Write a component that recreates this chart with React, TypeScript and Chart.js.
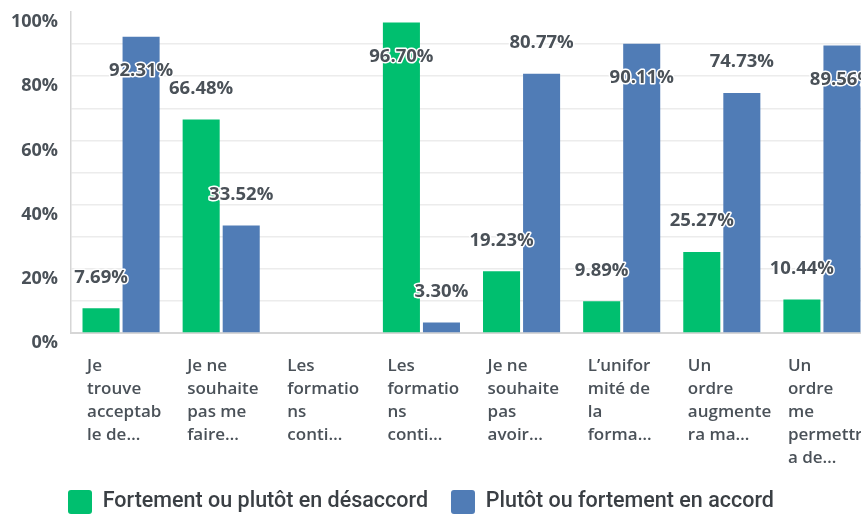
import React, { useEffect, useRef } from "react";
import { Chart, registerables } from "chart.js";

Chart.register(...registerables);

const categories: string[][] = [
  ["Je", "trouve", "acceptab", "le de…"],
  ["Je ne", "souhaite", "pas me", "faire…"],
  ["Les", "formatio", "ns", "conti…"],
  ["Les", "formatio", "ns", "conti…"],
  ["Je ne", "souhaite", "pas", "avoir…"],
  ["L’unifor", "mité de", "la", "forma…"],
  ["Un", "ordre", "augmente", "ra ma…"],
  ["Un", "ordre", "me", "permettr", "a de…"],
];

const seriesNames = ["Fortement ou plutôt en désaccord", "Plutôt ou fortement en accord"];
const disagree = [7.69, 66.48, 0, 96.7, 19.23, 9.89, 25.27, 10.44];
const agree = [92.31, 33.52, 0, 3.3, 80.77, 90.11, 74.73, 89.56];
const yTicks = [0, 20, 40, 60, 80, 100];

const GREEN = "#00BF6F";
const BLUE = "#507CB6";
const TEXT = "#4a5158";

const W = 872;
const H = 515;

const valueLabels = {
  id: "valueLabels",
  afterDatasetsDraw(chart: any) {
    const ctx = chart.ctx;
    ctx.save();
    ctx.font = "700 18.5px 'Open Sans'";
    ctx.textAlign = "center";
    ctx.textBaseline = "middle";
    ctx.lineJoin = "round";
    chart.data.datasets.forEach((ds: any, di: number) => {
      const meta = chart.getDatasetMeta(di);
      meta.data.forEach((el: any, i: number) => {
        const v = ds.data[i];
        if (!v) return;
        const top = el.y;
        const y = top - 31 >= 25 ? top - 31 : top + 34;
        const txt = v.toFixed(2) + "%";
        ctx.strokeStyle = "#ffffff";
        ctx.lineWidth = 3;
        ctx.strokeText(txt, el.x, y);
        ctx.fillStyle = TEXT;
        ctx.fillText(txt, el.x, y);
      });
    });
    ctx.restore();
  },
};

const legendPlacer = {
  id: "legendPlacer",
  afterLayout(chart: any) {
    const lg = chart.legend;
    if (!lg) return;
    const dx = 45 - lg.left;
    lg.left += dx;
    lg.right += dx;
    const dy = 467 - lg.top;
    lg.top += dy;
    lg.bottom += dy;
  },
};

export default function App() {
  const ref = useRef<HTMLCanvasElement | null>(null);
  useEffect(() => {
    if (!ref.current) return;
    const chart = new Chart(ref.current, {
      type: "bar",
      data: {
        labels: categories,
        datasets: [
          {
            label: seriesNames[0],
            data: disagree,
            backgroundColor: GREEN,
            categoryPercentage: 0.8,
            barPercentage: 0.925,
          },
          {
            label: seriesNames[1],
            data: agree,
            backgroundColor: BLUE,
            categoryPercentage: 0.8,
            barPercentage: 0.925,
          },
        ],
      },
      options: {
        responsive: false,
        animation: false,
        layout: { padding: { top: 12, left: 0, right: 0, bottom: -30 } },
        plugins: {
          tooltip: { enabled: false },
          legend: {
            position: "bottom",
            align: "start",
            labels: {
              boxWidth: 24,
              boxHeight: 24,
              padding: 23,
              color: "#3a3f44",
              font: { family: "Roboto", size: 21.5, weight: "500" },
              useBorderRadius: true,
              borderRadius: 3,
            },
          },
        },
        scales: {
          x: {
            grid: { display: false, drawTicks: false },
            border: { display: true, color: "#d6d6d6", width: 2 },
            ticks: {
              align: "start",
              labelOffset: -34,
              padding: 22,
              maxRotation: 0,
              autoSkip: false,
              color: TEXT,
              font: { family: "Open Sans", size: 17, weight: "600", lineHeight: "23px" },
            },
            afterFit: (s: any) => {
              s.height = 155;
              s.paddingLeft = 0;
              s.paddingRight = 0;
            },
          },
          y: {
            min: 0,
            max: 100,
            grid: {
              drawTicks: false,
              color: (c: any) => (c.tick && c.tick.value === 100 ? "rgba(0,0,0,0)" : "#ececec"),
              lineWidth: 1.5,
            },
            border: { display: true, color: "#d6d6d6", width: 1.5 },
            ticks: {
              stepSize: 10,
              padding: 13,
              labelOffset: 10,
              color: TEXT,
              font: { family: "Open Sans", size: 18, weight: "700" },
              callback: (v: any) => (yTicks.includes(Number(v)) ? v + "%" : ""),
            },
            afterFit: (s: any) => {
              s.width = 71;
              s.paddingTop = 0;
              s.paddingBottom = 0;
            },
          },
        },
      },
      plugins: [valueLabels, legendPlacer],
    });
    return () => chart.destroy();
  }, []);
  return (
    <div style={{ position: "absolute", left: 0, top: 0, width: 861, height: 515, overflow: "hidden", background: "#fff" }}>
      <canvas ref={ref} width={W} height={H} style={{ width: W, height: H, display: "block" }} />
    </div>
  );
}
